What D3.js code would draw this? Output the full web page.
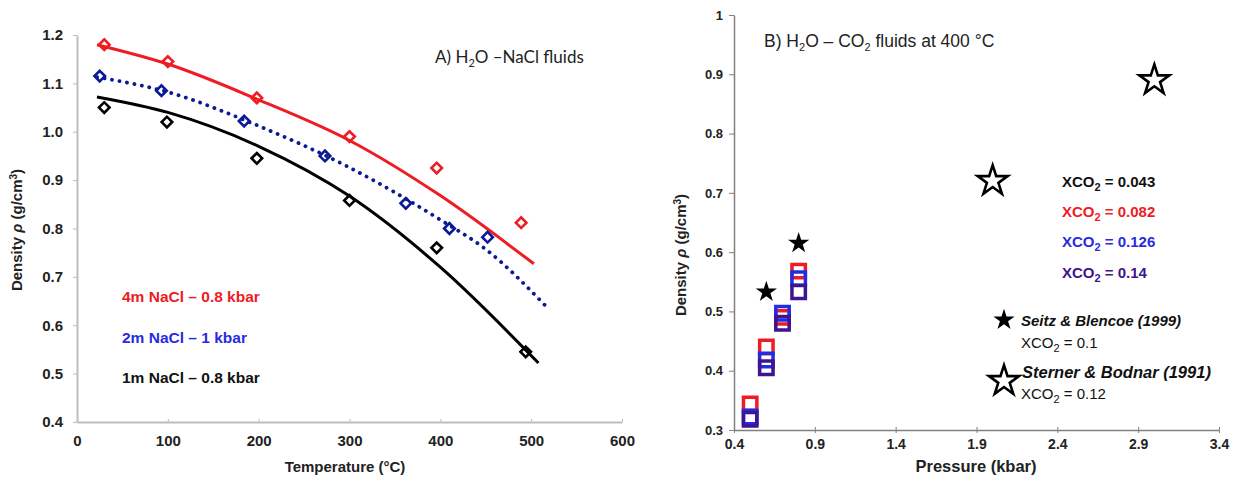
<!DOCTYPE html>
<html>
<head>
<meta charset="utf-8">
<script src="https://cdn.jsdelivr.net/npm/d3@7"></script>
<style>
body { margin:0; background:#fff; }
svg text { font-family: "Liberation Sans", Arial, sans-serif; }
.tick text { font-weight:bold; fill:#222; }
</style>
</head>
<body>
<div id="chart"></div>
<script>
// ---- panel A : H2O-NaCl ----
var tempRed = [30, 100, 198, 300, 396, 489];
var rhoRed = [1.18, 1.145, 1.07, 0.99, 0.925, 0.812];
var tempBlue = [25, 93, 184, 273, 362, 410, 452];
var rhoBlue = [1.115, 1.085, 1.022, 0.95, 0.852, 0.80, 0.782];
var tempBlack = [30, 99, 198, 300, 396, 494];
var rhoBlack = [1.05, 1.02, 0.945, 0.858, 0.76, 0.545];

// fitted trend lines
var fitTempRed = [22, 100, 200, 300, 400, 503];
var fitRhoRed = [1.18, 1.14, 1.066, 0.982, 0.868, 0.727];
var fitTempBlue = [22, 100, 200, 300, 400, 450, 518];
var fitRhoBlue = [1.113, 1.082, 1.012, 0.926, 0.818, 0.757, 0.636];
var fitTempBlack = [22, 100, 200, 300, 400, 508];
var fitRhoBlack = [1.072, 1.04, 0.97, 0.867, 0.72, 0.522];

var tempTicks = [0, 100, 200, 300, 400, 500, 600];
var rhoTicksA = [0.4, 0.5, 0.6, 0.7, 0.8, 0.9, 1.0, 1.1, 1.2];

// ---- panel B : H2O-CO2 at 400 C ----
var pressure = [0.5, 0.6, 0.7, 0.8];
var rho082 = [0.344, 0.44, 0.49, 0.568];
var rho126 = [0.322, 0.418, 0.497, 0.555];
var rho14 = [0.318, 0.405, 0.48, 0.533];
var seitzP = [0.6, 0.8], seitzRho = [0.533, 0.615];
var sternerP = [2.0, 3.0], sternerRho = [0.72, 0.89];

var pressTicks = [0.4, 0.9, 1.4, 1.9, 2.4, 2.9, 3.4];
var rhoTicksB = [0.3, 0.4, 0.5, 0.6, 0.7, 0.8, 0.9, 1];

var red = "#ee1c24", navy = "#0a1a96", blueTxt = "#2a2ae0", blue = "#1f2ee6", purple = "#3f1490";

var svg = d3.select("#chart").append("svg")
	.attr("width", 1237)
	.attr("height", 479);

function zip(a, b) { return a.map(function(v, i) { return [v, b[i]]; }); }

/////////////////////// Panel A ///////////////////////
var xA = d3.scaleLinear().domain([0, 600]).range([77, 622]);
var yA = d3.scaleLinear().domain([0.4, 1.2]).range([422, 35]);

var gA = svg.append("g");

gA.append("g")
	.attr("transform", "translate(0," + yA(0.4) + ")")
	.call(d3.axisBottom(xA).tickValues(tempTicks).tickSize(3).tickSizeOuter(0).tickFormat(d3.format("d")))
	.call(function(g) {
		g.select(".domain").attr("stroke", "#bdbdbd").attr("stroke-width", 2);
		g.selectAll(".tick line").attr("stroke", "#bdbdbd").attr("y1", -3).attr("y2", 0);
		g.selectAll(".tick text").attr("dy", "1.2em").style("font-size", "15px");
	});

gA.append("g")
	.attr("transform", "translate(" + xA(0) + ",0)")
	.call(d3.axisLeft(yA).tickValues(rhoTicksA).tickSize(4).tickSizeOuter(0).tickFormat(d3.format(".1f")))
	.call(function(g) {
		g.select(".domain").attr("stroke", "#bdbdbd").attr("stroke-width", 2);
		g.selectAll(".tick line").attr("stroke", "#bdbdbd");
		g.selectAll(".tick text").attr("x", -14).style("font-size", "15px");
	});

var lineA = d3.line()
	.x(function(d) { return xA(d[0]); })
	.y(function(d) { return yA(d[1]); })
	.curve(d3.curveMonotoneX);

gA.append("path").datum(zip(fitTempRed, fitRhoRed))
	.attr("d", lineA).attr("fill", "none").attr("stroke", red).attr("stroke-width", 3);
gA.append("path").datum(zip(fitTempBlack, fitRhoBlack))
	.attr("d", lineA).attr("fill", "none").attr("stroke", "#000").attr("stroke-width", 3);
gA.append("path").datum(zip(fitTempBlue, fitRhoBlue))
	.attr("d", lineA).attr("fill", "none").attr("stroke", navy).attr("stroke-width", 3.8)
	.attr("stroke-dasharray", "0.1 7.5").attr("stroke-linecap", "round");

var diamond = d3.symbol().type(d3.symbolSquare).size(56);
function diamonds(xs, ys, col) {
	gA.selectAll(null).data(zip(xs, ys)).enter().append("path")
		.attr("d", diamond)
		.attr("transform", function(d) { return "translate(" + xA(d[0]) + "," + yA(d[1]) + ") rotate(45)"; })
		.attr("fill", "none").attr("stroke", col).attr("stroke-width", 2.6);
}
diamonds(tempRed, rhoRed, red);
diamonds(tempBlue, rhoBlue, navy);
diamonds(tempBlack, rhoBlack, "#000");

// texts
var tA = gA.append("text").attr("x", 435).attr("y", 63)
	.style("font-family", "Lato, 'Open Sans', sans-serif").style("font-size", "17px").attr("fill", "#222");
tA.append("tspan").text("A) H");
tA.append("tspan").text("2").attr("dy", 4).style("font-size", "11px");
tA.append("tspan").text("O –NaCl fluids").attr("dy", -4);

var legA = [["4m NaCl – 0.8 kbar", red, 302], ["2m NaCl – 1 kbar", blueTxt, 343], ["1m NaCl – 0.8 kbar", "#111", 383]];
gA.selectAll(null).data(legA).enter().append("text")
	.attr("x", 122).attr("y", function(d) { return d[2]; })
	.attr("fill", function(d) { return d[1]; })
	.style("font-size", "15.5px").style("font-weight", "bold")
	.text(function(d) { return d[0]; });

gA.append("text").attr("x", 345).attr("y", 472).attr("text-anchor", "middle")
	.style("font-size", "15px").style("font-weight", "bold").attr("fill", "#222")
	.text("Temperature (°C)");

function densityLabel(g, x, y) {
	var t = g.append("text").attr("transform", "translate(" + x + "," + y + ") rotate(-90)")
		.attr("text-anchor", "middle").style("font-size", "15px").style("font-weight", "bold").attr("fill", "#222");
	t.append("tspan").text("Density ");
	t.append("tspan").text("ρ").style("font-style", "italic");
	t.append("tspan").text(" (g/cm");
	t.append("tspan").text("3").attr("dy", -5).style("font-size", "10px");
	t.append("tspan").text(")").attr("dy", 5);
}
densityLabel(gA, 22, 230);

/////////////////////// Panel B ///////////////////////
var xB = d3.scaleLinear().domain([0.4, 3.4]).range([734, 1219]);
var yB = d3.scaleLinear().domain([0.3, 1]).range([430, 15]);
var gB = svg.append("g");

gB.append("g")
	.attr("transform", "translate(0," + yB(0.3) + ")")
	.call(d3.axisBottom(xB).tickValues(pressTicks).tickSize(4).tickSizeOuter(0).tickFormat(d3.format(".1f")))
	.call(function(g) {
		g.select(".domain").attr("stroke", "#808080").attr("stroke-width", 1.5);
		g.selectAll(".tick line").attr("stroke", "#808080").attr("y1", -3).attr("y2", 3);
		g.selectAll(".tick text").attr("dy", "0.85em").style("font-size", "14px");
	});

gB.append("g")
	.attr("transform", "translate(" + xB(0.4) + ",0)")
	.call(d3.axisLeft(yB).tickValues(rhoTicksB).tickSize(5).tickSizeOuter(0).tickFormat(function(d) { return d === 1 ? "1" : d3.format(".1f")(d); }))
	.call(function(g) {
		g.select(".domain").attr("stroke", "#808080").attr("stroke-width", 1.5);
		g.selectAll(".tick line").attr("stroke", "#808080");
		g.selectAll(".tick text").attr("x", -11).style("font-size", "13px");
	});

function squares(ys, col) {
	gB.selectAll(null).data(zip(pressure, ys)).enter().append("path")
		.attr("d", d3.symbol().type(d3.symbolSquare).size(180))
		.attr("transform", function(d) { return "translate(" + xB(d[0]) + "," + yB(d[1]) + ")"; })
		.attr("fill", "none").attr("stroke", col).attr("stroke-width", 3.5);
}
squares(rho082, red);
squares(rho126, blue);
squares(rho14, purple);

var starFill = d3.symbol().type(d3.symbolStar).size(140);
var starOpen = d3.symbol().type(d3.symbolStar).size(280);
gB.selectAll(null).data(zip(seitzP, seitzRho)).enter().append("path")
	.attr("d", starFill)
	.attr("transform", function(d) { return "translate(" + xB(d[0]) + "," + yB(d[1]) + ")"; })
	.attr("fill", "#000");
gB.selectAll(null).data(zip(sternerP, sternerRho)).enter().append("path")
	.attr("d", starOpen)
	.attr("transform", function(d) { return "translate(" + xB(d[0]) + "," + yB(d[1]) + ")"; })
	.attr("fill", "#fff").attr("stroke", "#000").attr("stroke-width", 2.6);

var tB = gB.append("text").attr("x", 764).attr("y", 47).style("font-size", "17.5px").attr("fill", "#222");
tB.append("tspan").text("B) H");
tB.append("tspan").text("2").attr("dy", 4).style("font-size", "11px");
tB.append("tspan").text("O – CO").attr("dy", -4);
tB.append("tspan").text("2").attr("dy", 4).style("font-size", "11px");
tB.append("tspan").text(" fluids at 400 °C").attr("dy", -4);

function xco2(g, x, y, val, col, bold, size) {
	var t = g.append("text").attr("x", x).attr("y", y).attr("fill", col)
		.style("font-size", size + "px").style("font-weight", bold ? "bold" : "normal");
	t.append("tspan").text("XCO");
	t.append("tspan").text("2").attr("dy", 4).style("font-size", (size - 4) + "px");
	t.append("tspan").text(" = " + val).attr("dy", -4);
}
var legB = [["0.043", "#111", 187], ["0.082", red, 217], ["0.126", blueTxt, 247], ["0.14", purple, 278]];
legB.forEach(function(d) { xco2(gB, 1062, d[2], d[0], d[1], true, 15); });

gB.append("path").attr("d", starFill).attr("transform", "translate(1004,320)").attr("fill", "#000");
gB.append("text").attr("x", 1021).attr("y", 326).style("font-size", "15px").style("font-weight", "bold")
	.style("font-style", "italic").attr("fill", "#111").text("Seitz & Blencoe (1999)");
xco2(gB, 1021, 348, "0.1", "#111", false, 15);

gB.append("path").attr("d", starOpen).attr("transform", "translate(1004,381)")
	.attr("fill", "#fff").attr("stroke", "#000").attr("stroke-width", 2.6);
gB.append("text").attr("x", 1022).attr("y", 378).style("font-size", "16.5px").style("font-weight", "bold")
	.style("font-style", "italic").attr("fill", "#111").text("Sterner & Bodnar (1991)");
xco2(gB, 1021, 399, "0.12", "#111", false, 15);

gB.append("text").attr("x", 976).attr("y", 472).attr("text-anchor", "middle")
	.style("font-size", "16.5px").style("font-weight", "bold").attr("fill", "#222")
	.text("Pressure (kbar)");
densityLabel(gB, 686, 255);
</script>
</body>
</html>
